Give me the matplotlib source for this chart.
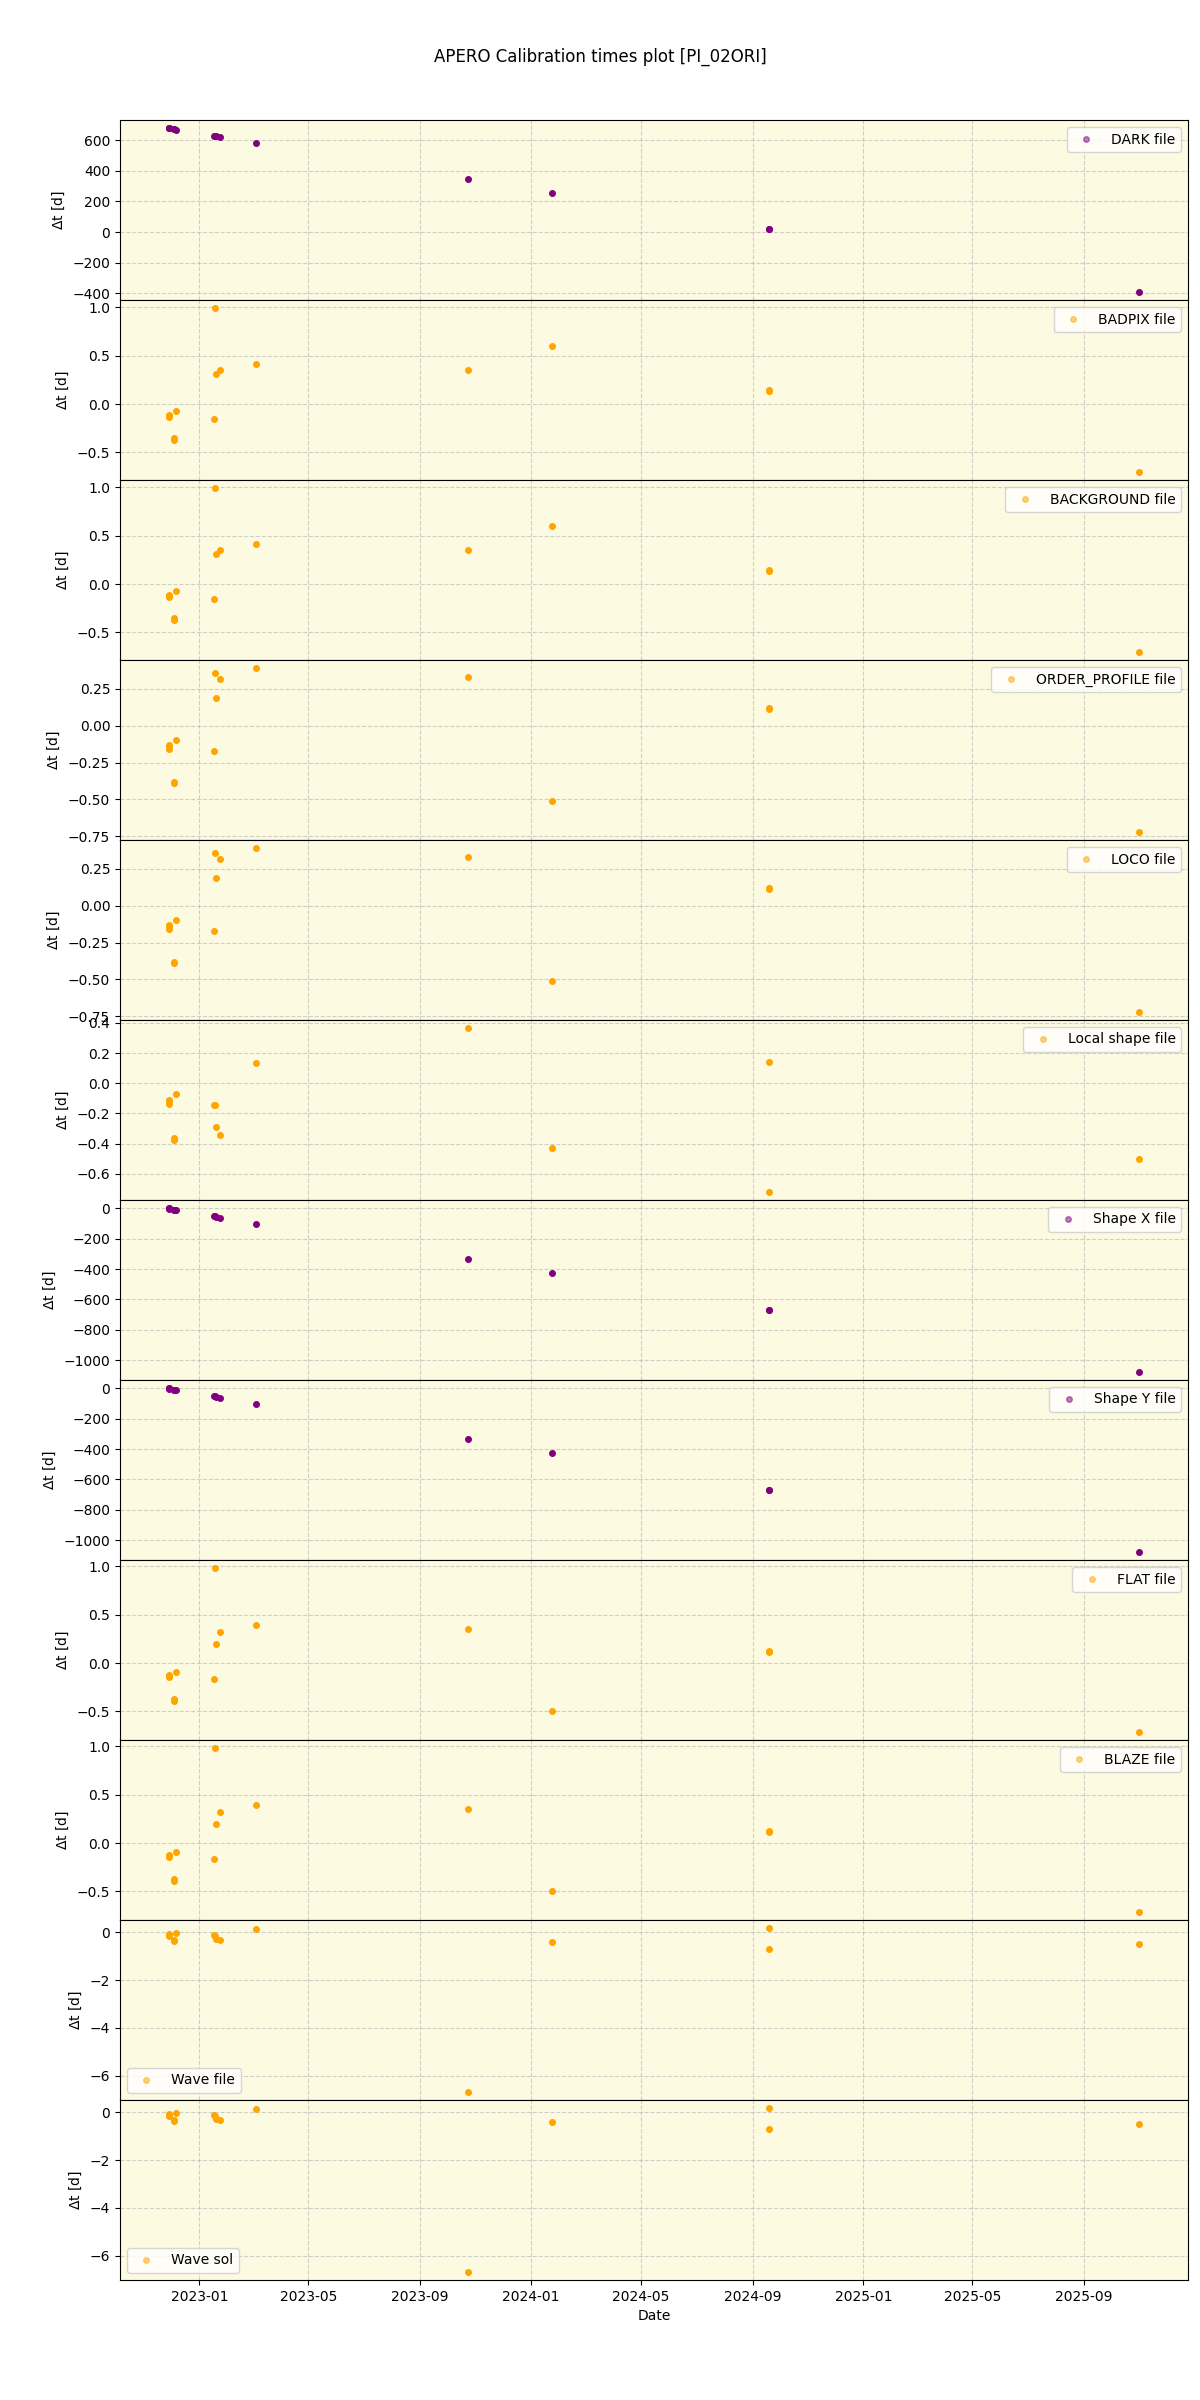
import numpy as np
import pandas as pd
import matplotlib
matplotlib.use('Agg')
import matplotlib.pyplot as plt
import matplotlib.dates as mdates

# Observation dates (one entry per science frame)
obs_dates = ['2022-11-28', '2022-11-28', '2022-11-28',
             '2022-12-04', '2022-12-04',
             '2022-12-06',
             '2023-01-17', '2023-01-18', '2023-01-19', '2023-01-24',
             '2023-03-04',
             '2023-10-24',
             '2024-01-24',
             '2024-09-19', '2024-09-19',
             '2025-11-01']

# Delta t [d] between calibration and observation, per calibration type
dt_dark = [679, 677, 678, 672, 672, 670, 629, 628, 627, 620, 580, 345, 254, 19, 18, -391]
dt_badpix = [-0.11, -0.12, -0.13, -0.35, -0.37, -0.07, -0.15, 0.99, 0.31, 0.35,
             0.41, 0.35, 0.60, 0.13, 0.14, -0.70]
dt_background = [-0.11, -0.12, -0.13, -0.35, -0.37, -0.07, -0.15, 0.99, 0.31, 0.35,
                 0.41, 0.35, 0.60, 0.13, 0.14, -0.70]
dt_order_profile = [-0.13, -0.14, -0.155, -0.38, -0.39, -0.10, -0.17, 0.36, 0.19, 0.32,
                    0.39, 0.33, -0.51, 0.11, 0.12, -0.72]
dt_loco = [-0.13, -0.14, -0.155, -0.38, -0.39, -0.10, -0.17, 0.36, 0.19, 0.32,
           0.39, 0.33, -0.51, 0.11, 0.12, -0.72]
dt_local_shape = [-0.11, -0.12, -0.135, -0.36, -0.375, -0.07, -0.147, -0.143, -0.29, -0.345,
                  0.135, 0.365, -0.43, 0.14, -0.72, -0.50]
dt_shape_x = [2, 0, -1, -7, -8, -9, -51, -52, -53, -60, -100, -335, -427, -668, -668, -1078]
dt_shape_y = [2, 0, -1, -7, -8, -9, -51, -52, -53, -60, -100, -335, -427, -668, -668, -1078]
dt_flat = [-0.12, -0.13, -0.145, -0.37, -0.39, -0.095, -0.165, 0.98, 0.195, 0.325,
           0.39, 0.355, -0.50, 0.11, 0.12, -0.71]
dt_blaze = [-0.12, -0.13, -0.145, -0.37, -0.39, -0.095, -0.165, 0.98, 0.195, 0.325,
            0.39, 0.355, -0.50, 0.11, 0.12, -0.71]
dt_wave_file = [-0.08, -0.12, -0.15, -0.34, -0.38, -0.04, -0.12, -0.15, -0.29, -0.34,
                0.15, -6.67, -0.42, 0.17, -0.69, -0.50]
dt_wave_sol = [-0.08, -0.12, -0.15, -0.34, -0.38, -0.04, -0.12, -0.15, -0.29, -0.34,
               0.15, -6.67, -0.42, 0.17, -0.69, -0.50]

labels = ['DARK file', 'BADPIX file', 'BACKGROUND file', 'ORDER_PROFILE file',
          'LOCO file', 'Local shape file', 'Shape X file', 'Shape Y file',
          'FLAT file', 'BLAZE file', 'Wave file', 'Wave sol']
series = [dt_dark, dt_badpix, dt_background, dt_order_profile, dt_loco,
          dt_local_shape, dt_shape_x, dt_shape_y, dt_flat, dt_blaze,
          dt_wave_file, dt_wave_sol]
colors = ['purple', 'orange', 'orange', 'orange', 'orange', 'orange',
          'purple', 'purple', 'orange', 'orange', 'orange', 'orange']
leg_loc = ['upper right'] * 10 + ['lower left', 'lower left']

dates = pd.to_datetime(obs_dates)

fig, axes = plt.subplots(len(series), 1, figsize=(12, 24), dpi=100, sharex=True)
fig.subplots_adjust(left=0.1, right=0.99, top=0.95, bottom=0.05, hspace=0)
fig.suptitle('APERO Calibration times plot [PI_02ORI]')

for i, ax in enumerate(axes):
    ax.set_facecolor('#fcfae1')
    ax.plot(dates, series[i], 'o', color=colors[i], ms=4, label=labels[i], zorder=3)
    ax.grid(True, ls='--', color='0.7', alpha=0.6, zorder=0)
    ax.set_ylabel(r'$\Delta$t [d]')
    leg = ax.legend(loc=leg_loc[i])
    for h in leg.legend_handles:
        h.set_alpha(0.5)

axes[-1].xaxis.set_major_locator(mdates.MonthLocator(bymonth=[1, 5, 9]))
axes[-1].xaxis.set_major_formatter(mdates.DateFormatter('%Y-%m'))
axes[-1].set_xlabel('Date')

plt.savefig('out.png')
